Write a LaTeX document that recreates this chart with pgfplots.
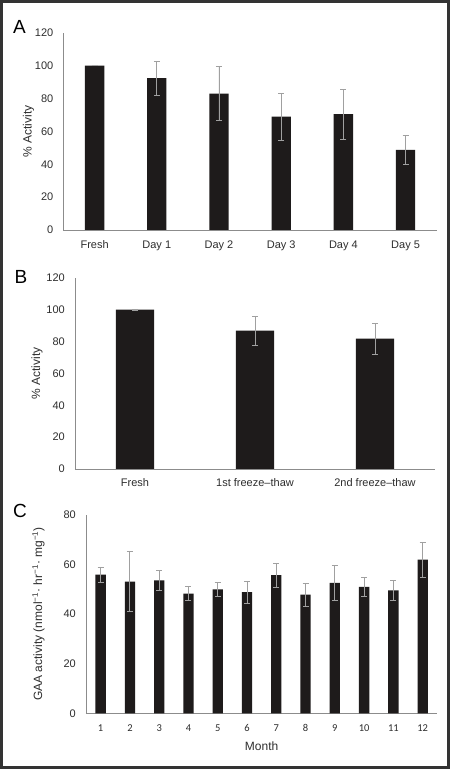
\documentclass[border=0pt]{standalone}
\usepackage{pgfplots}
\pgfplotsset{compat=1.18}
\usepackage{fontspec}
\setmainfont{Liberation Sans}
\newfontfamily\calibri{Carlito}
\definecolor{barc}{HTML}{1E1B1B}
\definecolor{errc}{HTML}{A0A0A0}
\definecolor{axc}{HTML}{8C8C8C}
\definecolor{txt}{HTML}{2E2E2E}
\definecolor{frame}{HTML}{333333}
\pgfplotsset{
  panel/.style={
    scale only axis, anchor=south west,
    axis x line*=bottom, axis y line*=left,
    axis line style={axc, line width=0.9pt, -},
    major tick length=0pt,
    ymin=0,
    /pgf/number format/assume math mode=true,
    tick label style={font=\fontsize{11}{13}\selectfont, text=txt},
    yticklabel style={anchor=east, inner sep=0pt, xshift=-10pt},
    xticklabel style={anchor=base, inner sep=0pt},
    xtick=data,
    clip=false,
  },
  ylab/.style={every axis y label/.style={at={(axis description cs:0,0.5)}, xshift=#1, rotate=90, anchor=center, font=\fontsize{12}{14}\selectfont, text=txt}},
  bars/.style={ybar, fill=barc, draw=none,
    error bars/.cd, y dir=both, y explicit,
    error bar style={errc, line width=0.9pt},
    error mark options={errc, line width=0.9pt, mark size=3pt, rotate=90}},
}
\begin{document}
\begin{tikzpicture}[x=1pt,y=1pt]
\useasboundingbox (0,0) rectangle (450,769);
\fill[white] (0,0) rectangle (450,769);
\draw[frame, line width=3pt] (1.5,1.5) rectangle (448.5,767.5);
% Panel letters
\node[anchor=base west, inner sep=0pt, font=\fontsize{19}{22}\selectfont] at (13,{769-33.3}) {A};
\node[anchor=base west, inner sep=0pt, font=\fontsize{19}{22}\selectfont] at (14.5,{769-284}) {B};
\node[anchor=base west, inner sep=0pt, font=\fontsize{19}{22}\selectfont] at (13,{769-517.7}) {C};
% Panel A
\begin{axis}[panel, at={(63.5pt,539pt)}, width=373.2pt, height=197.3pt,
  xmin=-0.5, xmax=5.5, ymax=120, ytick={0,20,...,120},
  xticklabels={Fresh,Day 1,Day 2,Day 3,Day 4,Day 5},
  xticklabel style={yshift=-18.3pt},
  ylab=-35pt,
  ylabel={\% Activity}, bar width=19.3pt]
\addplot[bars] table[x=x, y=y, y error=e] {
x y e
0 100 0
1 92.3 10.4
2 82.9 16.4
3 68.9 14.2
4 70.4 15.1
5 48.8 8.7
};
\end{axis}
% Panel B
\begin{axis}[panel, at={(75pt,300pt)}, width=360pt, height=191.3pt,
  xmin=-0.5, xmax=2.5, ymax=120, ytick={0,20,...,120},
  xticklabels={Fresh,1st freeze–thaw,2nd freeze–thaw},
  xticklabel style={yshift=-17.7pt},
  ylab=-38pt,
  ylabel={\% Activity}, bar width=38.3pt]
\addplot[bars] table[x=x, y=y, y error=e] {
x y e
0 100 0.3
1 86.8 9.0
2 81.8 9.7
};
\end{axis}
% Panel C
\begin{axis}[panel, at={(86pt,55.7pt)}, width=351.3pt, height=198.3pt,
  xmin=0.5, xmax=12.5, ymax=80, ytick={0,20,...,80},
  xticklabel style={yshift=-18.4pt, font=\calibri\fontsize{10.5}{12}\selectfont},
  ylab=-47.5pt,
  every axis x label/.style={at={(axis description cs:0.5,0)}, yshift=-36.7pt, anchor=base, font=\fontsize{12}{14}\selectfont, text=txt},
  ylabel={GAA activity (nmol\textsuperscript{−1}· hr\textsuperscript{−1}· mg\textsuperscript{−1})},
  xlabel={Month}, bar width=10.3pt]
\addplot[bars] table[x=x, y=y, y error=e] {
x y e
1 55.9 3.1
2 53.1 12.0
3 53.6 4.2
4 48.3 2.8
5 50.0 2.7
6 48.9 4.4
7 55.7 4.9
8 47.9 4.6
9 52.6 7.0
10 51.0 3.7
11 49.6 4.0
12 62.0 7.0
};
\end{axis}
\end{tikzpicture}
\end{document}
